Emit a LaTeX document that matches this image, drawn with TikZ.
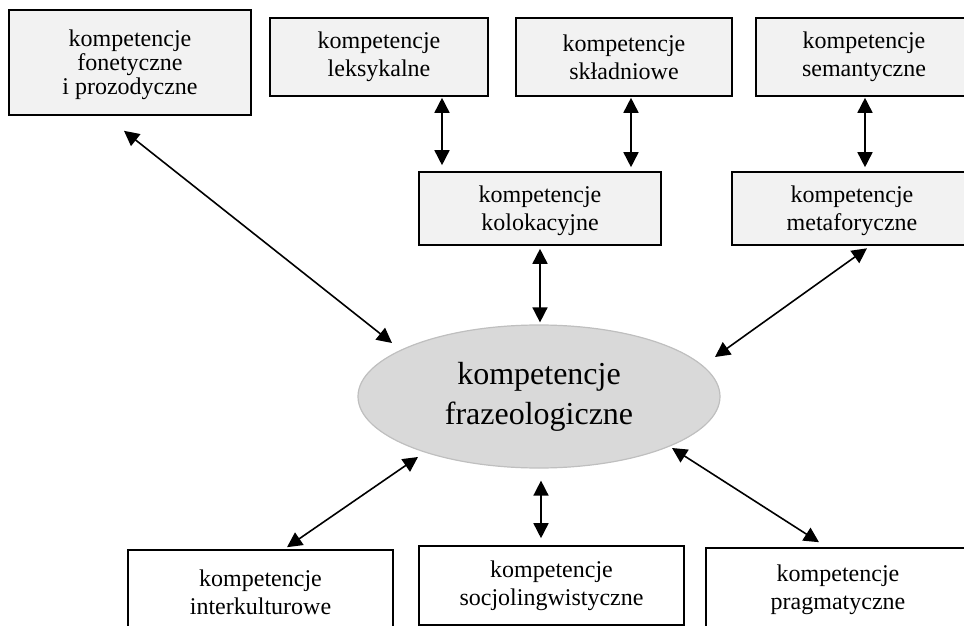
\documentclass[tikz,border=0pt]{standalone}
\usepackage{fontspec}
\setmainfont{Liberation Serif}
\usetikzlibrary{arrows.meta,shapes.geometric}
\definecolor{boxgray}{HTML}{F2F2F2}
\definecolor{ovalfill}{HTML}{D9D9D9}
\definecolor{ovaldraw}{HTML}{BFBFBF}

\begin{document}
\begin{tikzpicture}[x=0.5pt,y=-0.5pt]
    \clip (0,0) rectangle (964,626);
    \begin{scope}
        \tikzstyle{every node}=[draw=black, line width=0.8pt, rectangle, fill=boxgray, align=center, inner sep=0pt, font=\fontsize{12}{14}\selectfont]
        \node[minimum width=121pt, minimum height=52.5pt, text depth=0pt, font=\fontsize{12}{12}\selectfont] (fon) at (130,62.5) {kompetencje\\fonetyczne\\i prozodyczne};
        \node[minimum width=109pt, minimum height=39pt] (leks) at (379,57) {kompetencje\\leksykalne};
        \node[minimum width=108pt, minimum height=39pt] (skl) at (624,57) {kompetencje\\składniowe};
        \node[minimum width=108pt, minimum height=39pt] (sem) at (864,57) {kompetencje\\semantyczne};
        \node[minimum width=121pt, minimum height=36.5pt, text depth=0pt] (kol) at (540,208.5) {kompetencje\\kolokacyjne};
        \node[minimum width=120pt, minimum height=36.5pt, text depth=0pt] (met) at (852,208.5) {kompetencje\\metaforyczne};
    \end{scope}
    \begin{scope}
        \tikzstyle{every node}=[draw=black, line width=0.8pt, rectangle, fill=white, align=center, inner sep=0pt, font=\fontsize{12}{14}\selectfont]
        \node[minimum width=132.5pt, minimum height=42pt] (ik) at (260.5,592) {kompetencje\\interkulturowe};
        \node[minimum width=132.5pt, minimum height=39.5pt] (soc) at (551.5,585.5) {kompetencje\\socjolingwistyczne};
        \node[minimum width=132pt, minimum height=42pt] (prag) at (838,590) {kompetencje\\pragmatyczne};
    \end{scope}
    \node[ellipse, draw=ovaldraw, fill=ovalfill, line width=0.6pt, minimum width=181pt, minimum height=71.5pt, inner sep=0pt, align=center, font=\fontsize{16}{20}\selectfont] (frz) at (539,396.5) {kompetencje\\frazeologiczne};
    \begin{scope}
        \tikzstyle{every edge}=[draw, line width=0.8pt, <->, >={Triangle[length=7.5pt,width=7.5pt]}]
        \path
        ([shift={(-6,15)}]fon.south) edge ([shift={(-147,-53.5)}]frz.center)
        ([shift={(63,1)}]leks.south) edge ([shift={(-98,-6)}]kol.north)
        ([shift={(7,1)}]skl.south) edge ([shift={(91,-4)}]kol.north)
        ([shift={(1,1)}]sem.south) edge ([shift={(13,-4)}]met.north)
        ([shift={(0,3)}]kol.south) edge ([shift={(1,-2)}]frz.north)
        ([shift={(15,2.5)}]met.south) edge ([shift={(176,-39.5)}]frz.center)
        ([shift={(-121,60.5)}]frz.center) edge ([shift={(26.5,-2)}]ik.north)
        ([shift={(2,12)}]frz.south) edge ([shift={(-10.5,-7)}]soc.north)
        ([shift={(133,51.5)}]frz.center) edge ([shift={(-19,-5)}]prag.north);
    \end{scope}
\end{tikzpicture}
\end{document}
